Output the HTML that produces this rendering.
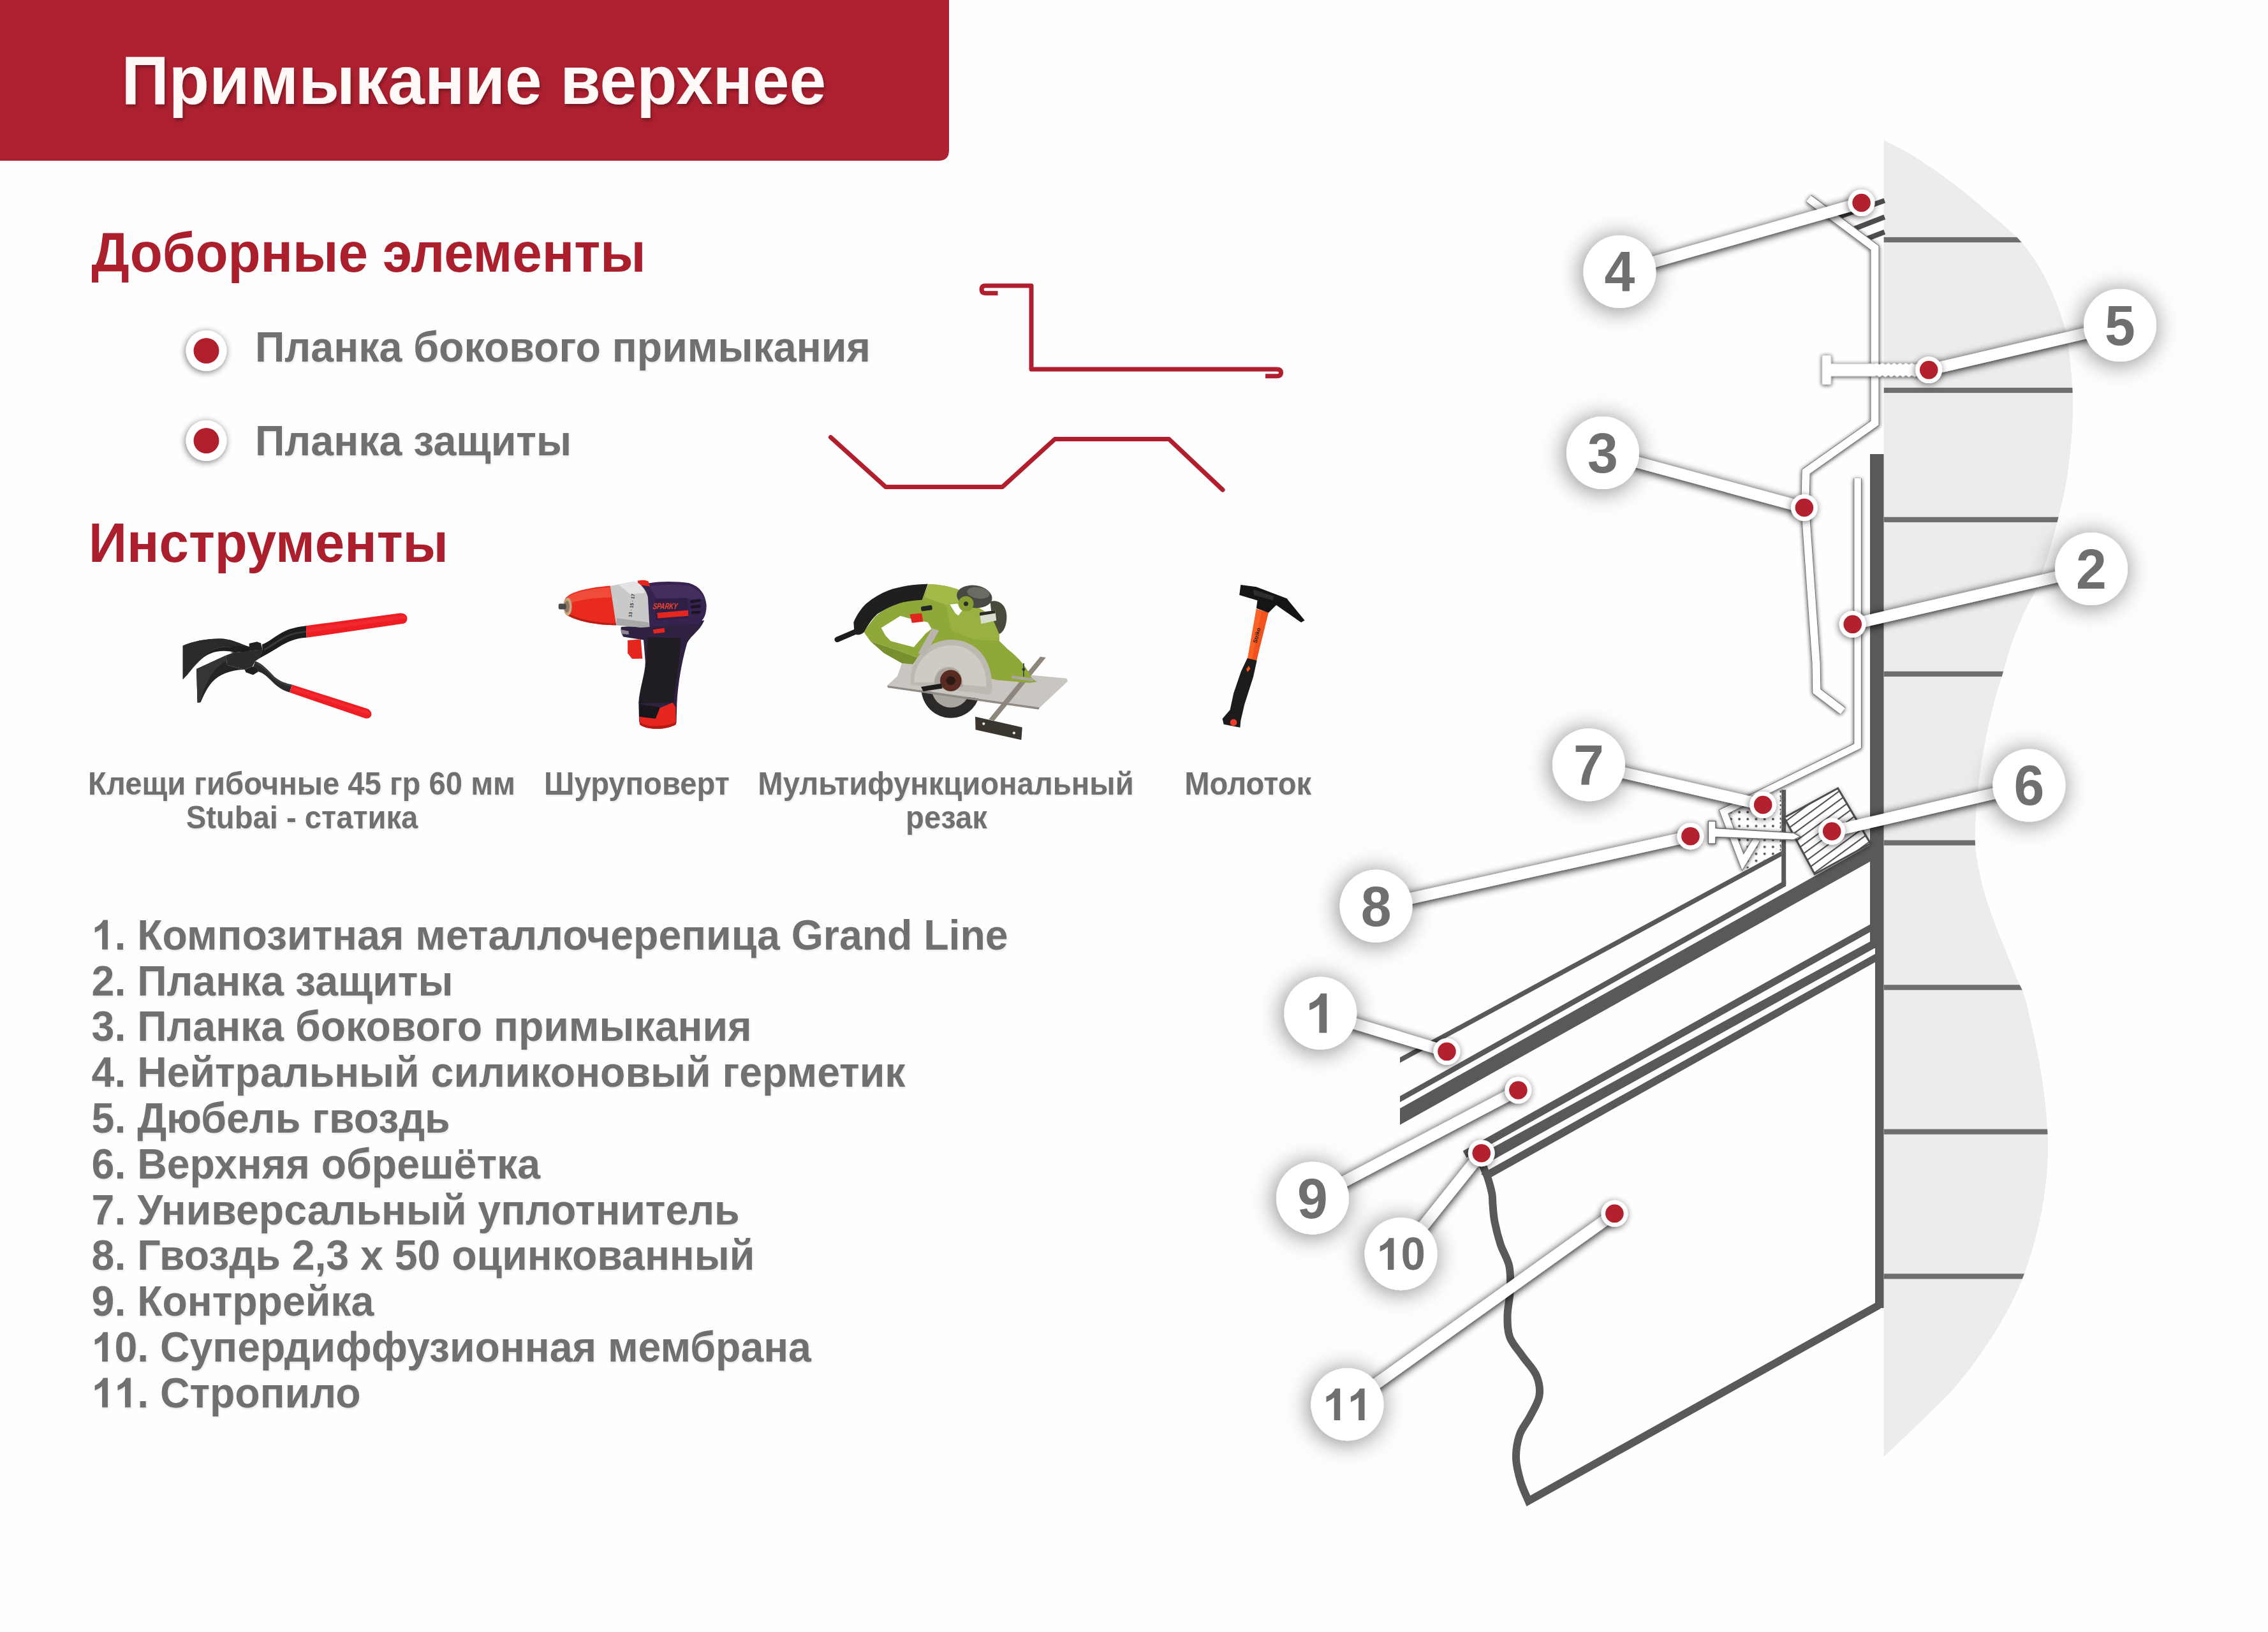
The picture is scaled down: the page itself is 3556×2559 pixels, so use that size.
<!DOCTYPE html>
<html lang="ru">
<head>
<meta charset="utf-8">
<title>Примыкание верхнее</title>
<style>
html,body{margin:0;padding:0;background:#fefefe;}
body{width:3556px;height:2559px;overflow:hidden;font-family:"Liberation Sans",sans-serif;}
svg{display:block;position:absolute;left:0;top:0;}
text{font-family:"Liberation Sans",sans-serif;font-weight:bold;}
.g{fill:#6f6f6f;}
.r{fill:#ab1f2d;}
.dk{fill:#585858;}
.w{fill:#fffaf8;}
</style>
</head>
<body>
<svg width="3556" height="2559" viewBox="0 0 3556 2559">
<defs>
  <filter id="shBig" x="-60%" y="-60%" width="220%" height="220%">
    <feGaussianBlur in="SourceAlpha" stdDeviation="19"/>
    <feOffset dx="-2" dy="3" result="b"/>
    <feComponentTransfer><feFuncA type="linear" slope="0.5"/></feComponentTransfer>
    <feMerge><feMergeNode/><feMergeNode in="SourceGraphic"/></feMerge>
  </filter>
  <filter id="shDot" x="-80%" y="-80%" width="260%" height="260%">
    <feGaussianBlur in="SourceAlpha" stdDeviation="5.5"/>
    <feOffset dx="-1" dy="2"/>
    <feComponentTransfer><feFuncA type="linear" slope="0.55"/></feComponentTransfer>
    <feMerge><feMergeNode/><feMergeNode in="SourceGraphic"/></feMerge>
  </filter>
  <filter id="shLine" x="-20%" y="-20%" width="140%" height="140%" filterUnits="userSpaceOnUse">
    <feGaussianBlur in="SourceAlpha" stdDeviation="4"/>
    <feOffset dx="0" dy="2"/>
    <feComponentTransfer><feFuncA type="linear" slope="0.6"/></feComponentTransfer>
    <feMerge><feMergeNode/><feMergeNode in="SourceGraphic"/></feMerge>
  </filter>
  <filter id="shTxt" x="-5%" y="-20%" width="110%" height="140%">
    <feGaussianBlur in="SourceAlpha" stdDeviation="1.5"/>
    <feOffset dx="0.5" dy="1.5"/>
    <feComponentTransfer><feFuncA type="linear" slope="0.10"/></feComponentTransfer>
    <feMerge><feMergeNode/><feMergeNode in="SourceGraphic"/></feMerge>
  </filter>
  <filter id="shStrip" x="2400" y="200" width="700" height="1300" filterUnits="userSpaceOnUse">
    <feGaussianBlur in="SourceAlpha" stdDeviation="3.2"/>
    <feOffset dx="0" dy="1"/>
    <feComponentTransfer><feFuncA type="linear" slope="0.75"/></feComponentTransfer>
    <feMerge><feMergeNode/><feMergeNode in="SourceGraphic"/></feMerge>
  </filter>
  <filter id="shLead" x="1950" y="200" width="1500" height="2200" filterUnits="userSpaceOnUse">
    <feGaussianBlur in="SourceAlpha" stdDeviation="6.5"/>
    <feOffset dx="0" dy="1.5"/>
    <feComponentTransfer><feFuncA type="linear" slope="1"/></feComponentTransfer>
    <feMerge><feMergeNode/><feMergeNode in="SourceGraphic"/></feMerge>
  </filter>
  <filter id="shTitle" x="-5%" y="-20%" width="110%" height="150%">
    <feGaussianBlur in="SourceAlpha" stdDeviation="2.5"/>
    <feOffset dx="2" dy="3.5"/>
    <feComponentTransfer><feFuncA type="linear" slope="0.3"/></feComponentTransfer>
    <feMerge><feMergeNode/><feMergeNode in="SourceGraphic"/></feMerge>
  </filter>
</defs>

<!-- BANNER -->
<path d="M0,0 H1488 V235.5 Q1488,252 1471.5,252 H0 Z" fill="#ad2030"/>
<g filter="url(#shTitle)"><text class="w" transform="translate(190.4,162.5) scale(1,1.04)" font-size="103.5">Примыкание верхнее</text></g>

<!-- HEADINGS -->
<text class="r" transform="translate(143.2,425.7) scale(1,1.04)" font-size="83.6">Доборные элементы</text>
<text class="r" transform="translate(139.1,881.3) scale(1,1.04)" font-size="83.5">Инструменты</text>

<!-- BULLETS -->
<g filter="url(#shDot)">
  <circle cx="323.5" cy="550" r="32" fill="#fff"/>
  <circle cx="323.5" cy="691" r="32" fill="#fff"/>
</g>
<circle cx="323.5" cy="550" r="20" fill="#b11f2d"/>
<circle cx="323.5" cy="691" r="20" fill="#b11f2d"/>
<g filter="url(#shTxt)">
<text class="g" transform="translate(400,566.5) scale(1,1.04)" font-size="64.5">Планка бокового примыкания</text>
<text class="g" transform="translate(400,714) scale(1,1.04)" font-size="64.5">Планка защиты</text>
</g>

<!-- PROFILES -->
<g fill="none" stroke="#b11f2e" stroke-width="7" stroke-linejoin="round" stroke-linecap="butt">
  <path d="M1564.5,459.7 H1545 Q1539,459.7 1539,454 Q1539,448.1 1545,448.1 H1617 V579 H2002 Q2008.5,579 2008.5,584.5 Q2008.5,589.8 2002,589.8 H1984"/>
  <path d="M1302.4,685.6 L1388.5,763.4 H1571.8 L1653.9,688.5 H1832.8 L1917.1,768.1" stroke-linecap="round"/>
</g>

<!-- TOOLS -->
<!--TOOLS_START-->
<!-- PLIERS -->
<g transform="translate(270,980) scale(0.10141)">
  <!-- lower arm -->
  <path d="M1285,560 C1400,600 1480,700 1580,800 C1680,880 1760,900 1852,922 L1815,1042 C1700,1010 1620,950 1540,870 C1460,790 1400,740 1330,720 L1250,650 Z" fill="#2b2b2c"/>
  <path d="M1300,575 C1400,615 1480,705 1580,805 C1680,885 1760,905 1850,930 L1842,955 C1750,935 1660,900 1570,830 C1480,740 1400,650 1290,600 Z" fill="#3d3d3e"/>
  <!-- upper arm -->
  <path d="M1390,300 C1500,260 1600,160 1750,90 C1850,45 1950,30 2070,12 L2078,195 C1900,205 1780,260 1650,340 C1550,405 1450,460 1340,520 L1395,380 Z" fill="#1d1d1e"/>
  <path d="M1420,365 C1520,320 1620,230 1770,160 C1870,115 1960,100 2074,90 L2075,115 C1960,125 1880,140 1780,185 C1640,250 1540,340 1425,395 Z" fill="#3a3a3b"/>
  <!-- lower jaw -->
  <path d="M375,680 L830,472 L850,620 L1120,690 C900,690 720,770 620,880 C540,970 480,1100 440,1195 L390,1200 Z" fill="#252526"/>
  <path d="M375,680 L830,472 L838,560 C660,640 520,860 425,1198 L390,1200 Z" fill="#353536"/>
  <!-- upper jaw -->
  <path d="M165,320 C350,240 600,200 800,215 C950,235 1050,290 1190,335 L1190,420 L900,410 C700,380 550,440 450,530 C350,620 260,740 165,840 Z" fill="#1f1f20"/>
  <path d="M165,320 C350,240 600,200 800,215 C950,235 1050,290 1150,325 C900,320 700,330 560,420 C420,510 320,660 225,780 L165,840 Z" fill="#2a2a2b"/>
  <path d="M225,780 C320,660 420,510 560,420 C700,335 820,330 920,345" fill="none" stroke="#4a4a4a" stroke-width="6"/>
  <!-- body -->
  <path d="M830,472 L940,430 L1190,400 L1390,380 L1395,440 L1340,520 L1285,560 L1240,640 L1120,690 L850,620 Z" fill="#2c2c2d"/>
  <path d="M900,420 L1190,335 L1395,380 L1190,400 L940,430 Z" fill="#1c1c1d"/>
  <!-- pivot blocks -->
  <path d="M1190,285 L1310,258 L1372,280 L1395,380 L1190,400 Z" fill="#222223"/>
  <path d="M1120,690 L1240,640 L1310,680 L1330,722 L1250,772 L1140,732 Z" fill="#1f1f20"/>
</g>
<g transform="translate(220,900) scale(0.22046)">
  <!-- red handles -->
  <path d="M1179,368 L1845,279 C1885,275 1903,300 1897,325 C1893,345 1880,352 1865,354 L1183,453 Z" fill="#ee1c23"/>
  <path d="M1180,388 L1860,295 C1880,293 1890,305 1890,315 L1182,418 Z" fill="#f5303a" opacity=".6"/>
  <path d="M1079,787 L1615,958 C1645,970 1648,1000 1640,1012 C1630,1030 1610,1030 1595,1025 L1062,843 Z" fill="#ee1c23"/>
  <path d="M1075,800 L1615,975 C1630,982 1635,995 1632,1003 L1068,822 Z" fill="#f5303a" opacity=".6"/>
</g>
<!-- DRILL -->
<g transform="translate(840,880) scale(0.17158)">
  <!-- handle dark -->
  <path d="M780,600 L1040,585 L1540,540 C1500,640 1400,690 1380,760 C1340,900 1300,1100 1290,1300 L1285,1480 L945,1470 L940,1290 C950,1150 1010,1000 1000,900 L985,720 L800,690 C780,660 775,630 780,600 Z" fill="#2f2140"/>
  <path d="M1025,695 L1320,700 C1330,900 1270,1100 1265,1290 L945,1300 C950,1150 1015,1000 1012,880 Z" fill="#1f1d22"/>
  <!-- body -->
  <path d="M930,195 L1040,200 C1150,180 1300,185 1400,200 C1500,230 1550,300 1560,400 C1560,480 1540,540 1480,570 L1040,600 L1000,300 Z" fill="#37234f"/>
  <path d="M1040,230 C1150,205 1300,210 1400,225 C1470,250 1520,290 1540,350 L1100,340 Z" fill="#4a3365" opacity=".7"/>
  <!-- top red button -->
  <path d="M930,180 C960,170 1010,172 1030,185 L1045,230 L940,215 Z" fill="#e5261f"/>
  <!-- silver collar -->
  <path d="M675,228 L900,185 C960,200 1010,260 1025,330 L1040,600 L960,605 L730,585 Z" fill="#c9c9c9"/>
  <path d="M760,215 L900,185 C950,200 985,240 1000,290 L860,300 Z" fill="#e3e3e3"/>
  <path d="M740,520 L1030,560 L1040,600 L960,605 L735,585 Z" fill="#a9a9a9"/>
  <!-- chuck red -->
  <path d="M268,345 C300,290 440,245 680,225 L735,585 C590,582 400,560 285,492 C250,450 248,385 268,345 Z" fill="#ea2a1f"/>
  <path d="M295,325 C360,280 520,250 678,238 L690,330 C540,335 400,350 285,395 Z" fill="#f45a45" opacity=".7"/>
  <path d="M280,470 C400,535 560,562 732,568 L735,585 C590,582 400,560 285,492 Z" fill="#b81d16"/>
  <!-- chuck tip -->
  <ellipse cx="292" cy="415" rx="38" ry="82" fill="#c8a983"/>
  <ellipse cx="285" cy="415" rx="24" ry="55" fill="#8c7a66"/>
  <rect x="208" y="388" width="70" height="52" rx="14" fill="#4a4a4a"/>
  <!-- numbers on collar -->
  <g fill="#333" font-size="42" font-weight="bold" transform="rotate(-82 900 400)"><text x="785" y="392">13 · 15 · 17</text></g>
  <!-- label -->
  <path d="M1085,345 L1385,335 L1395,520 L1100,540 Z" fill="#2f1f45"/>
  <text x="1128" y="438" font-size="78" font-style="italic" fill="#e8452f" transform="skewX(-8)" textLength="225" lengthAdjust="spacingAndGlyphs">SPARKY</text>
  <path d="M1110,472 L1392,448 L1395,500 L1115,522 Z" fill="#e5261f"/>
  <!-- vents -->
  <g fill="#1a1425"><rect x="1412" y="350" width="95" height="26" rx="10" transform="rotate(-8 1460 363)"/><rect x="1418" y="402" width="92" height="26" rx="10" transform="rotate(-6 1460 415)"/><rect x="1422" y="455" width="85" height="26" rx="10" transform="rotate(-4 1460 468)"/></g>
  <!-- side red button -->
  <path d="M1070,625 L1175,610 L1180,650 L1080,662 Z" fill="#e5261f"/>
  <!-- trigger -->
  <path d="M840,722 L960,712 L975,890 L880,892 L840,840 Z" fill="#e5261f"/>
  <path d="M780,625 L850,640 L850,670 L785,665 Z" fill="#8d8796"/>
  <!-- battery -->
  <path d="M945,1305 L1130,1335 L1135,1440 L945,1425 Z" fill="#19171b"/>
  <path d="M945,1420 L1095,1440 L1135,1340 L1250,1292 L1278,1330 L1282,1490 C1200,1545 1010,1545 950,1492 Z" fill="#e5261f"/>
  <path d="M950,1470 C1010,1520 1200,1520 1282,1465 L1282,1490 C1200,1545 1010,1545 950,1492 Z" fill="#b51a15"/>
</g>
<!-- SAW -->
<g transform="translate(1280,890) scale(0.17637)">
  <!-- cord -->
  <path d="M185,640 L370,560" stroke="#1c1c1a" stroke-width="48" stroke-linecap="round" fill="none"/>
  <!-- guide rail -->
  <path d="M1412,1325 L1830,1420 L1822,1532 L1415,1442 Z" fill="#3b352f"/>
  <circle cx="1487" cy="1388" r="12" fill="#eee"/><circle cx="1757" cy="1470" r="12" fill="#eee"/>
  <!-- blade -->
  <circle cx="1195" cy="1075" r="262" fill="#2b2a28"/>
  <circle cx="1195" cy="1075" r="170" fill="#a9a59f"/>
  <!-- base plate -->
  <path d="M630,1048 L720,965 L760,850 L2225,985 L2235,1010 L1985,1245 L1950,1238 Z" fill="#c9c5c0"/>
  <path d="M630,1048 L1950,1238 L1985,1245 L1975,1262 L635,1068 Z" fill="#8f8a84"/>
  <path d="M1990,793 L2040,800 L1580,1362 L1532,1350 Z" fill="#8e857c"/>
  <!-- green body -->
  <path d="M420,570 L520,440 C600,360 760,290 950,258 L995,148 C1100,150 1200,170 1285,205 L1290,300 C1400,330 1500,380 1560,440 L1625,520 L1625,650 L1700,725 C1800,800 1880,900 1915,985 L1960,1015 L1900,1025 L1600,1000 L900,800 L620,700 L480,655 Z" fill="#8fa83a"/>
  <path d="M576,536 L747,430 L833,453 L991,486 L1024,545 L972,585 L866,707 L661,654 L615,605 Z" fill="#fefefe"/>
  <path d="M995,148 C1100,150 1200,170 1285,205 L1290,300 L1150,330 L960,262 Z" fill="#a3ba49"/>
  <path d="M480,655 L620,700 L900,800 L860,860 L760,850 L600,760 Z" fill="#788f2d"/>
  <path d="M1290,300 C1400,330 1500,380 1560,440 L1625,520 L1625,650 L1400,640 L1200,560 L1150,330 Z" fill="#99b141"/>
  <path d="M1186,327 L1255,321 L1302,374 L1262,426 L1236,407 Z" fill="#fefefe"/>
  <!-- black handle top -->
  <path d="M331,486 C360,420 400,360 443,321 C500,270 570,230 641,202 C750,165 870,148 991,146 L939,288 C880,292 830,297 773,308 C690,330 610,370 542,413 C500,450 460,510 424,572 C400,600 350,605 338,585 Z" fill="#1f1f1d"/>
  <!-- red switch -->
  <path d="M830,415 L935,405 L950,480 L850,492 Z" fill="#e0261f"/>
  <rect x="930" y="340" width="100" height="42" rx="12" fill="#252523" transform="rotate(-8 980 360)"/>
  <!-- motor end -->
  <path d="M1545,300 C1620,280 1690,330 1692,430 C1694,520 1660,580 1625,590 L1560,440 Z" fill="#4a4a3c"/>
  <!-- knob -->
  <ellipse cx="1405" cy="258" rx="158" ry="100" fill="#494944" transform="rotate(8 1405 258)"/>
  <ellipse cx="1440" cy="225" rx="100" ry="50" fill="#6b6b64" transform="rotate(8 1440 225)"/>
  <circle cx="1330" cy="322" r="68" fill="#869e33"/><circle cx="1330" cy="322" r="20" fill="#2a2a26"/>
  <!-- label plate -->
  <path d="M1450,400 L1590,380 L1600,470 L1465,500 Z" fill="#d9ddd0"/><path d="M1450,400 L1590,380 L1592,405 L1453,428 Z" fill="#2a2a26"/>
  <!-- blade guard -->
  <path d="M838,1025 C830,800 1000,640 1200,640 C1420,640 1580,820 1560,1100 L1545,1130 L838,1040 Z" fill="#bdb8b0"/>
  <path d="M870,1020 C870,830 1020,690 1200,690 C1380,690 1520,840 1510,1060 L1300,1040 C1300,940 1250,880 1180,880 C1100,880 1050,940 1045,1020 Z" fill="#cfcbc4"/>
  <path d="M1050,1035 C1050,940 1110,890 1180,890 C1250,890 1300,940 1300,1060 Z" fill="#a9a49c"/>
  <circle cx="1195" cy="1005" r="95" fill="#5a2b22"/><circle cx="1195" cy="1005" r="40" fill="#2c1a16"/>
  <path d="M1560,1100 C1580,820 1420,640 1200,640 L1250,600 C1500,620 1640,850 1600,1110 Z" fill="#a9c13d" opacity=".0"/>
  <path d="M930,1060 L1110,1030 L1120,1075 L950,1100 Z" fill="#1d1d1b"/>
  <!-- front lever -->
  <path d="M905,760 L1030,540 L1090,560 L960,790 Z" fill="#b9b5ae"/>
  <!-- small bolt -->
  <rect x="1838" y="850" width="10" height="120" fill="#444"/><circle cx="1843" cy="905" r="14" fill="#333"/>
  <path d="M1740,960 L1930,985 L1925,1010 L1735,985 Z" fill="#aaa59f"/>
</g>
<!-- HAMMER -->
<g transform="translate(1860,890) scale(0.17155)">
  <path d="M640,378 L752,410 L642,852 L560,832 Z" fill="#f2521b"/>
  <path d="M640,378 L690,392 L598,842 L560,832 Z" fill="#ff6a2a" opacity=".7"/>
  <path d="M558,828 L645,850 L612,1000 L532,1250 L497,1400 L492,1462 L342,1432 L330,1382 L400,1300 L432,1150 L500,950 Z" fill="#1d1b1c"/>
  <path d="M572,898 L585,925 L560,955 L548,928 Z" fill="#f2521b"/>
  <circle cx="432" cy="1415" r="31" fill="#ef3e2c"/>
  <path d="M497,158 L640,176 L920,282 L937,306 L1082,482 L1050,502 L822,342 L752,412 L640,372 L650,300 L485,250 Z" fill="#151515"/>
  <path d="M610,200 L800,262 L790,300 L620,250 Z" fill="#2e2e2e"/>
  <text x="0" y="0" font-size="50" fill="#222" transform="translate(643,692) rotate(-76)">Striko</text>
</g>
<!--TOOLS_END-->

<!-- CAPTIONS -->
<g text-anchor="middle" filter="url(#shTxt)">
<text class="g" transform="translate(473,1245.5) scale(1,1.04)" font-size="47.2">Клещи гибочные 45 гр 60 мм</text>
<text class="g" transform="translate(473.5,1298.8) scale(1,1.04)" font-size="47.2">Stubai - статика</text>
<text class="g" transform="translate(998.5,1245.5) scale(1,1.04)" font-size="47.2">Шуруповерт</text>
<text class="g" transform="translate(1483,1245.5) scale(1,1.04)" font-size="47.2">Мультифункциональный</text>
<text class="g" transform="translate(1484,1298.8) scale(1,1.04)" font-size="47.2">резак</text>
<text class="g" transform="translate(1956.7,1245.5) scale(1,1.04)" font-size="47.2">Молоток</text>
</g>

<!-- LIST -->
<g filter="url(#shTxt)">
<path class="g" transform="translate(143.60,1488.80) scale(0.03145)" d="M806,0 H525 V-1059 Q371,-915 162,-846 V-1101 Q272,-1137 401,-1237.5 Q530,-1338 578,-1472 H806 Z"/><text class="g" transform="translate(179.42,1488.8) scale(1,1.04)" font-size="64.4">. Композитная металлочерепица Grand Line</text>
<text class="g" transform="translate(143.6,1560.6) scale(1,1.04)" font-size="64.4">2. Планка защиты</text>
<text class="g" transform="translate(143.6,1632.4) scale(1,1.04)" font-size="64.4">3. Планка бокового примыкания</text>
<text class="g" transform="translate(143.6,1704.2) scale(1,1.04)" font-size="64.4">4. Нейтральный силиконовый герметик</text>
<text class="g" transform="translate(143.6,1776.0) scale(1,1.04)" font-size="64.4">5. Дюбель гвоздь</text>
<text class="g" transform="translate(143.6,1847.8) scale(1,1.04)" font-size="64.4">6. Верхняя обрешётка</text>
<text class="g" transform="translate(143.6,1919.6) scale(1,1.04)" font-size="64.4">7. Универсальный уплотнитель</text>
<text class="g" transform="translate(143.6,1991.4) scale(1,1.04)" font-size="64.4">8. Гвоздь 2,3 х 50 оцинкованный</text>
<text class="g" transform="translate(143.6,2063.2) scale(1,1.04)" font-size="64.4">9. Контррейка</text>
<path class="g" transform="translate(143.60,2135.00) scale(0.03145)" d="M806,0 H525 V-1059 Q371,-915 162,-846 V-1101 Q272,-1137 401,-1237.5 Q530,-1338 578,-1472 H806 Z"/><text class="g" transform="translate(179.42,2135.0) scale(1,1.04)" font-size="64.4">0. Супердиффузионная мембрана</text>
<path class="g" transform="translate(143.60,2206.80) scale(0.03145)" d="M806,0 H525 V-1059 Q371,-915 162,-846 V-1101 Q272,-1137 401,-1237.5 Q530,-1338 578,-1472 H806 Z"/><path class="g" transform="translate(179.42,2206.80) scale(0.03145)" d="M806,0 H525 V-1059 Q371,-915 162,-846 V-1101 Q272,-1137 401,-1237.5 Q530,-1338 578,-1472 H806 Z"/><text class="g" transform="translate(215.23,2206.8) scale(1,1.04)" font-size="64.4">. Стропило</text>
</g>

<!-- DIAGRAM -->
<!--DIAG_START-->
<clipPath id="wallclip"><path d="M2953.5,219.3 C2962.0,224.0 2985.1,235.0 3004.3,247.2 C3023.5,259.3 3049.3,277.6 3068.6,292.2 C3087.9,306.8 3103.8,321.1 3120.0,335.0 C3136.2,348.9 3153.0,361.9 3165.9,375.8 C3178.8,389.7 3188.4,404.3 3197.2,418.6 C3206.0,432.9 3212.3,446.5 3218.7,461.5 C3225.1,476.5 3231.5,493.0 3235.8,508.7 C3240.1,524.4 3242.1,538.6 3244.4,555.8 C3246.7,572.9 3248.7,593.7 3249.5,611.6 C3250.3,629.5 3250.2,645.9 3249.5,663.0 C3248.8,680.1 3247.1,697.4 3245.2,714.5 C3243.3,731.6 3241.0,749.1 3237.9,765.9 C3234.8,782.7 3230.3,799.5 3226.4,815.2 C3222.5,830.9 3218.6,846.1 3214.4,860.2 C3210.2,874.3 3205.1,889.2 3201.5,899.7 C3197.9,910.2 3198.0,911.9 3193.0,922.9 C3188.0,933.9 3177.9,951.4 3171.5,965.7 C3165.1,980.0 3159.6,993.6 3154.4,1008.6 C3149.2,1023.6 3144.5,1041.5 3140.2,1055.8 C3135.9,1070.1 3132.3,1080.8 3128.6,1094.4 C3124.9,1108.0 3121.1,1122.9 3117.9,1137.2 C3114.7,1151.5 3111.8,1165.7 3109.3,1180.0 C3106.8,1194.3 3104.7,1208.7 3102.9,1223.0 C3101.1,1237.3 3099.6,1249.4 3098.6,1265.8 C3097.6,1282.2 3096.2,1305.2 3096.9,1321.6 C3097.6,1338.0 3100.1,1350.1 3102.9,1364.4 C3105.7,1378.7 3109.3,1393.0 3113.6,1407.3 C3117.9,1421.6 3123.2,1435.9 3128.6,1450.2 C3134.0,1464.5 3140.1,1478.7 3145.8,1493.0 C3151.5,1507.3 3158.3,1524.7 3162.9,1535.9 C3167.5,1547.1 3169.8,1548.1 3173.5,1560.0 C3177.2,1571.9 3181.4,1589.9 3185.3,1607.2 C3189.2,1624.5 3193.7,1644.9 3197.1,1663.8 C3200.5,1682.7 3203.4,1701.9 3205.6,1720.4 C3207.8,1738.9 3209.5,1757.3 3210.3,1774.6 C3211.1,1791.9 3211.3,1806.5 3210.3,1824.2 C3209.3,1841.9 3207.2,1861.9 3204.2,1880.8 C3201.2,1899.7 3197.7,1917.4 3192.4,1937.4 C3187.1,1957.4 3180.0,1981.3 3172.5,2001.0 C3165.0,2020.7 3157.9,2036.0 3147.5,2055.3 C3137.1,2074.6 3124.0,2096.2 3109.8,2116.6 C3095.7,2137.0 3079.9,2158.2 3062.6,2177.9 C3045.3,2197.6 3024.2,2216.7 3006.0,2234.5 C2987.8,2252.3 2962.2,2276.2 2953.5,2284.5 Z"/></clipPath>
<path d="M2953.5,219.3 C2962.0,224.0 2985.1,235.0 3004.3,247.2 C3023.5,259.3 3049.3,277.6 3068.6,292.2 C3087.9,306.8 3103.8,321.1 3120.0,335.0 C3136.2,348.9 3153.0,361.9 3165.9,375.8 C3178.8,389.7 3188.4,404.3 3197.2,418.6 C3206.0,432.9 3212.3,446.5 3218.7,461.5 C3225.1,476.5 3231.5,493.0 3235.8,508.7 C3240.1,524.4 3242.1,538.6 3244.4,555.8 C3246.7,572.9 3248.7,593.7 3249.5,611.6 C3250.3,629.5 3250.2,645.9 3249.5,663.0 C3248.8,680.1 3247.1,697.4 3245.2,714.5 C3243.3,731.6 3241.0,749.1 3237.9,765.9 C3234.8,782.7 3230.3,799.5 3226.4,815.2 C3222.5,830.9 3218.6,846.1 3214.4,860.2 C3210.2,874.3 3205.1,889.2 3201.5,899.7 C3197.9,910.2 3198.0,911.9 3193.0,922.9 C3188.0,933.9 3177.9,951.4 3171.5,965.7 C3165.1,980.0 3159.6,993.6 3154.4,1008.6 C3149.2,1023.6 3144.5,1041.5 3140.2,1055.8 C3135.9,1070.1 3132.3,1080.8 3128.6,1094.4 C3124.9,1108.0 3121.1,1122.9 3117.9,1137.2 C3114.7,1151.5 3111.8,1165.7 3109.3,1180.0 C3106.8,1194.3 3104.7,1208.7 3102.9,1223.0 C3101.1,1237.3 3099.6,1249.4 3098.6,1265.8 C3097.6,1282.2 3096.2,1305.2 3096.9,1321.6 C3097.6,1338.0 3100.1,1350.1 3102.9,1364.4 C3105.7,1378.7 3109.3,1393.0 3113.6,1407.3 C3117.9,1421.6 3123.2,1435.9 3128.6,1450.2 C3134.0,1464.5 3140.1,1478.7 3145.8,1493.0 C3151.5,1507.3 3158.3,1524.7 3162.9,1535.9 C3167.5,1547.1 3169.8,1548.1 3173.5,1560.0 C3177.2,1571.9 3181.4,1589.9 3185.3,1607.2 C3189.2,1624.5 3193.7,1644.9 3197.1,1663.8 C3200.5,1682.7 3203.4,1701.9 3205.6,1720.4 C3207.8,1738.9 3209.5,1757.3 3210.3,1774.6 C3211.1,1791.9 3211.3,1806.5 3210.3,1824.2 C3209.3,1841.9 3207.2,1861.9 3204.2,1880.8 C3201.2,1899.7 3197.7,1917.4 3192.4,1937.4 C3187.1,1957.4 3180.0,1981.3 3172.5,2001.0 C3165.0,2020.7 3157.9,2036.0 3147.5,2055.3 C3137.1,2074.6 3124.0,2096.2 3109.8,2116.6 C3095.7,2137.0 3079.9,2158.2 3062.6,2177.9 C3045.3,2197.6 3024.2,2216.7 3006.0,2234.5 C2987.8,2252.3 2962.2,2276.2 2953.5,2284.5 Z" fill="#ebecec"/>
<g clip-path="url(#wallclip)" fill="#6e6e6e">
<rect x="2953.5" y="371.9" width="320" height="8.2"/>
<rect x="2953.5" y="607.9" width="320" height="8.2"/>
<rect x="2953.5" y="810.7" width="320" height="8.2"/>
<rect x="2953.5" y="1052.7" width="320" height="8.2"/>
<rect x="2953.5" y="1317.4" width="320" height="8.2"/>
<rect x="2953.5" y="1544.2" width="320" height="8.2"/>
<rect x="2953.5" y="1770.5" width="320" height="8.2"/>
<rect x="2953.5" y="1997.2" width="320" height="8.2"/>
</g>
<path d="M2932,712 H2953.5 V2051 H2940 V1487 H2932 Z" fill="#595959"/>
<g fill="#595959">
<polygon points="2195.0,1657.9 2793.4,1334.2 2793.4,1342.6 2195.0,1666.4"/>
<polygon points="2195.0,1718.8 2793.4,1383.2 2800.2,1379.4 2800.2,1389.4 2195.0,1728.2"/>
<rect x="2793.2" y="1238.4" width="7" height="148"/>
<polygon points="2195.0,1737.9 2932.5,1324.8 2932.5,1350.8 2195.0,1763.8"/>
<polygon points="2293.7,1804.8 2932.5,1449.2 2932.5,1461.3 2299.5,1815.6"/>
<polygon points="2322.0,1809.5 2940.5,1471.8 2940.5,1486.0 2322.0,1829.2"/>
</g>
<path d="M2322.5,1820.0 C2323.2,1821.9 2324.8,1826.6 2326.6,1831.5 C2328.4,1836.4 2331.3,1842.4 2333.4,1849.2 C2335.5,1856.0 2338.2,1865.7 2339.4,1872.3 C2340.6,1878.9 2339.8,1881.7 2340.5,1888.9 C2341.2,1896.1 2341.4,1904.9 2343.4,1915.3 C2345.4,1925.7 2348.9,1939.6 2352.7,1951.3 C2356.5,1963.0 2363.8,1973.1 2366.3,1985.2 C2368.8,1997.3 2368.3,2011.0 2367.8,2024.0 C2367.3,2037.0 2363.6,2050.8 2363.5,2062.9 C2363.4,2075.0 2363.4,2086.3 2367.3,2096.8 C2371.2,2107.3 2379.8,2115.9 2386.7,2125.9 C2393.6,2135.9 2404.6,2146.5 2409.0,2157.0 C2413.4,2167.5 2415.1,2178.3 2413.4,2189.0 C2411.7,2199.7 2404.2,2210.8 2399.0,2221.0 C2393.8,2231.2 2386.2,2239.0 2382.5,2250.0 C2378.8,2261.0 2376.7,2274.8 2377.0,2287.0 C2377.3,2299.2 2381.1,2312.4 2384.3,2323.5 C2387.6,2334.6 2394.5,2348.5 2396.5,2353.5 L2946,2046.5" fill="none" stroke="#595959" stroke-width="12" stroke-linejoin="miter" stroke-miterlimit="6"/>
<polygon fill="#595959" points="2322.0,1841.0 2940.5,1495.5 2940.5,1508.5 2334.0,1848.3"/>
<defs><pattern id="hatch" width="40" height="11.5" patternUnits="userSpaceOnUse" patternTransform="rotate(-36.2 2860 1300)"><rect x="0" y="0" width="40" height="2.1" fill="#4d4d4d"/></pattern>
<pattern id="dots" width="13.2" height="10.9" x="2707.3" y="1268.0" patternUnits="userSpaceOnUse"><circle cx="6.6" cy="5.45" r="1.9" fill="#4d4d4d"/></pattern></defs>
<polygon points="2797.5,1282.0 2881.6,1235.9 2932.7,1322.7 2845.3,1370.8" fill="#fff" filter="url(#shLine)"/>
<polygon points="2797.5,1282.0 2881.6,1235.9 2932.7,1322.7 2845.3,1370.8" fill="url(#hatch)" stroke="#4d4d4d" stroke-width="3" stroke-linejoin="miter"/>
<polygon points="2709.3,1275.4 2792.5,1237.7 2792.5,1335.0 2731.8,1365.8" fill="#fff"/>
<polygon points="2709.3,1275.4 2792.5,1237.7 2792.5,1335.0 2731.8,1365.8" fill="url(#dots)"/>
<line x1="2791.5" y1="1240" x2="2791.5" y2="1335" stroke="#4d4d4d" stroke-width="1.6" stroke-dasharray="3 4"/>
<g stroke="#4d4d4d" stroke-width="8">
<line x1="2882.2" y1="340.2" x2="2954.8" y2="314.6"/>
<line x1="2907.9" y1="358.4" x2="2954.8" y2="340.2"/>
<line x1="2928.1" y1="373.9" x2="2954.8" y2="363.8"/>
</g>
<g fill="none" stroke-linejoin="miter" stroke-miterlimit="8"><polyline points="2912.6,750.0 2912.6,1169.7 2702.5,1272.8 2732.6,1352.0 2754.5,1316.0" stroke="#747474" stroke-width="12.5" filter="url(#shStrip)"/><polyline points="2912.6,750.0 2912.6,1169.7 2702.5,1272.8 2732.6,1352.0 2754.5,1316.0" stroke="#fff" stroke-width="10.5"/></g>
<g fill="none" stroke-linejoin="miter" stroke-miterlimit="8"><polyline points="2835.7,311.2 2939.5,388.8 2939.5,663.5 2831.6,739.6 2830.3,796.0 2847.6,1040.0 2848.3,1083.7 2889.3,1114.9" stroke="#747474" stroke-width="14" filter="url(#shStrip)"/><polyline points="2835.7,311.2 2939.5,388.8 2939.5,663.5 2831.6,739.6 2830.3,796.0 2847.6,1040.0 2848.3,1083.7 2889.3,1114.9" stroke="#fff" stroke-width="12"/></g>
<g filter="url(#shStrip)"><path d="M2856.8,557 H2871 V570.2 H2940 q2.3,-2.6 4.6,0 q2.3,2.6 4.6,0 q2.3,-2.6 4.6,0 q2.3,2.6 4.6,0 q2.3,-2.6 4.6,0 q2.3,2.6 4.6,0 q2.3,-2.6 4.6,0 q2.3,2.6 4.6,0 q2.3,-2.6 4.6,0 q2.3,2.6 4.6,0 q2.3,-2.6 4.6,0 q2.3,2.6 4.6,0 q2.3,-2.6 4.6,0 q2.3,2.6 4.6,0 H3024 V590 H3004.4 q-2.3,2.6 -4.6,0 q-2.3,-2.6 -4.6,0 q-2.3,2.6 -4.6,0 q-2.3,-2.6 -4.6,0 q-2.3,2.6 -4.6,0 q-2.3,-2.6 -4.6,0 q-2.3,2.6 -4.6,0 q-2.3,-2.6 -4.6,0 q-2.3,2.6 -4.6,0 q-2.3,-2.6 -4.6,0 q-2.3,2.6 -4.6,0 q-2.3,-2.6 -4.6,0 q-2.3,2.6 -4.6,0 q-2.3,-2.6 -4.6,0 H2871 V603 H2856.8 Z" fill="#fff" stroke="#b5b5b5" stroke-width="0.8"/></g>
<g filter="url(#shStrip)"><path d="M2678.4,1287.4 H2690 V1298.6 L2811.9,1305.9 L2823.1,1311.8 L2811.9,1317.1 L2690,1312.5 V1323 H2678.4 Z" fill="#fff" stroke="#6a6a6a" stroke-width="1.5" stroke-linejoin="round"/></g>
<g stroke="#fff" stroke-width="17.5" filter="url(#shLead)">
<line x1="2539.5" y1="426" x2="2918.6" y2="318"/>
<line x1="3324" y1="510" x2="3024.2" y2="580.1"/>
<line x1="2513" y1="710.1" x2="2828.9" y2="796"/>
<line x1="3279" y1="892" x2="2904.7" y2="978.8"/>
<line x1="2491" y1="1199.3" x2="2764.2" y2="1262"/>
<line x1="3181.4" y1="1231.5" x2="2872.2" y2="1303.5"/>
<line x1="2157.6" y1="1420.8" x2="2650.5" y2="1311.2"/>
<line x1="2070.3" y1="1588.8" x2="2268.5" y2="1648.8"/>
<line x1="2058" y1="1878.7" x2="2380.4" y2="1709.5"/>
<line x1="2196.6" y1="1966.2" x2="2322.8" y2="1808.2"/>
<line x1="2112.4" y1="2202.2" x2="2531.4" y2="1902.8"/>
</g>
<g fill="#fff" filter="url(#shBig)">
<circle cx="2539.5" cy="426" r="57"/>
<circle cx="3324" cy="510" r="57"/>
<circle cx="2513" cy="710.1" r="57"/>
<circle cx="3279" cy="892" r="57"/>
<circle cx="2491" cy="1199.3" r="57"/>
<circle cx="3181.4" cy="1231.5" r="57"/>
<circle cx="2157.6" cy="1420.8" r="57"/>
<circle cx="2070.3" cy="1588.8" r="57"/>
<circle cx="2058" cy="1878.7" r="57"/>
<circle cx="2196.6" cy="1966.2" r="57"/>
<circle cx="2112.4" cy="2202.2" r="57"/>
</g>
<text class="g" text-anchor="middle" transform="translate(2539.5,456.8) scale(1,1.04)" font-size="86">4</text>
<text class="g" text-anchor="middle" transform="translate(3324,540.8) scale(1,1.04)" font-size="86">5</text>
<text class="g" text-anchor="middle" transform="translate(2513,740.9) scale(1,1.04)" font-size="86">3</text>
<text class="g" text-anchor="middle" transform="translate(3279,922.8) scale(1,1.04)" font-size="86">2</text>
<text class="g" text-anchor="middle" transform="translate(2491,1230.1) scale(1,1.04)" font-size="86">7</text>
<text class="g" text-anchor="middle" transform="translate(3181.4,1262.3) scale(1,1.04)" font-size="86">6</text>
<text class="g" text-anchor="middle" transform="translate(2157.6,1451.6) scale(1,1.04)" font-size="86">8</text>
<path class="g" transform="translate(2046.39,1619.59) scale(0.04199)" d="M806,0 H525 V-1059 Q371,-915 162,-846 V-1101 Q272,-1137 401,-1237.5 Q530,-1338 578,-1472 H806 Z"/>
<text class="g" text-anchor="middle" transform="translate(2058,1909.5) scale(1,1.04)" font-size="86">9</text>
<path class="g" transform="translate(2158.23,1990.90) scale(0.03369)" d="M806,0 H525 V-1059 Q371,-915 162,-846 V-1101 Q272,-1137 401,-1237.5 Q530,-1338 578,-1472 H806 Z"/>
<text class="g" transform="translate(2196.6,1990.9) scale(1,1.04)" font-size="69">0</text>
<path class="g" transform="translate(2074.03,2226.90) scale(0.03369)" d="M806,0 H525 V-1059 Q371,-915 162,-846 V-1101 Q272,-1137 401,-1237.5 Q530,-1338 578,-1472 H806 Z"/>
<path class="g" transform="translate(2112.40,2226.90) scale(0.03369)" d="M806,0 H525 V-1059 Q371,-915 162,-846 V-1101 Q272,-1137 401,-1237.5 Q530,-1338 578,-1472 H806 Z"/>
<g fill="#fff" filter="url(#shDot)">
<circle cx="2918.6" cy="318" r="21"/>
<circle cx="3024.2" cy="580.1" r="21"/>
<circle cx="2828.9" cy="796" r="21"/>
<circle cx="2904.7" cy="978.8" r="21"/>
<circle cx="2764.2" cy="1262" r="21"/>
<circle cx="2872.2" cy="1303.5" r="21"/>
<circle cx="2650.5" cy="1311.2" r="21"/>
<circle cx="2268.5" cy="1648.8" r="21"/>
<circle cx="2380.4" cy="1709.5" r="21"/>
<circle cx="2322.8" cy="1808.2" r="21"/>
<circle cx="2531.4" cy="1902.8" r="21"/>
</g>
<g fill="#b3202e">
<circle cx="2918.6" cy="318" r="14.3"/>
<circle cx="3024.2" cy="580.1" r="14.3"/>
<circle cx="2828.9" cy="796" r="14.3"/>
<circle cx="2904.7" cy="978.8" r="14.3"/>
<circle cx="2764.2" cy="1262" r="14.3"/>
<circle cx="2872.2" cy="1303.5" r="14.3"/>
<circle cx="2650.5" cy="1311.2" r="14.3"/>
<circle cx="2268.5" cy="1648.8" r="14.3"/>
<circle cx="2380.4" cy="1709.5" r="14.3"/>
<circle cx="2322.8" cy="1808.2" r="14.3"/>
<circle cx="2531.4" cy="1902.8" r="14.3"/>
</g>
<!--DIAG_END-->
</svg>
</body>
</html>
